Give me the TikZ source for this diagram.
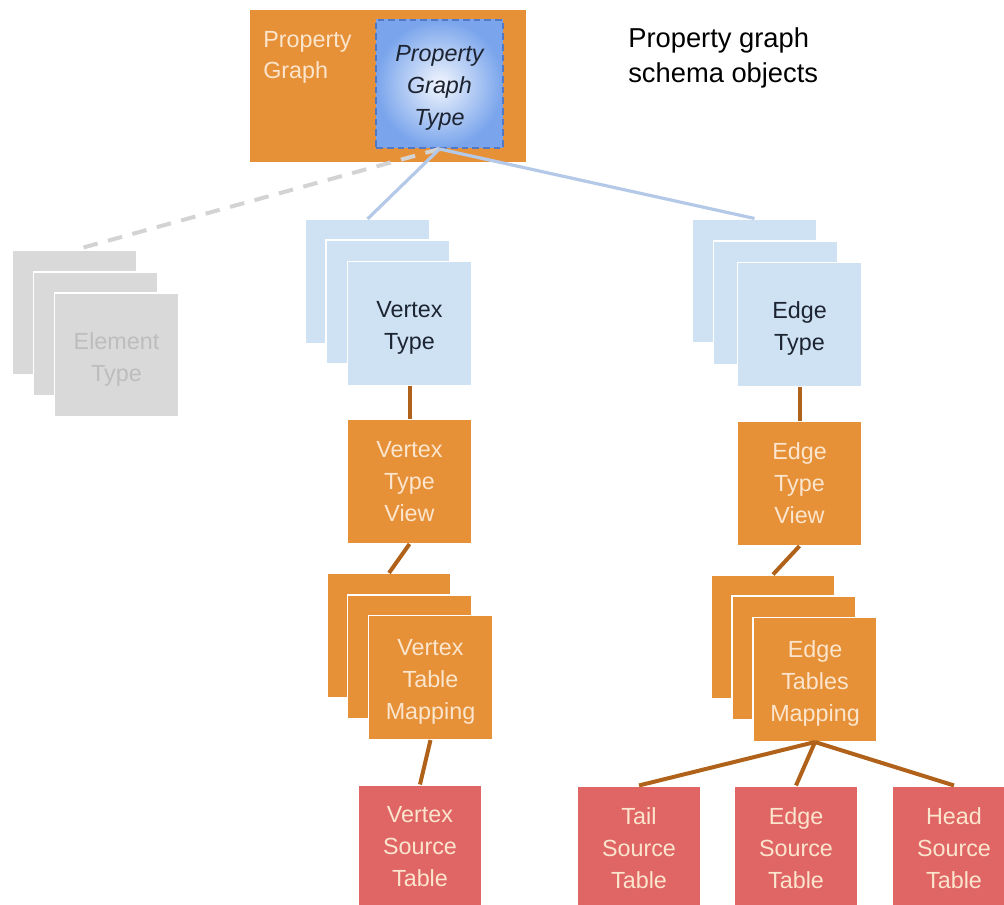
\documentclass[tikz,border=0pt]{standalone}
\usepackage{fontspec}
\setmainfont{Liberation Sans}
\definecolor{gorange}{HTML}{E69138}
\definecolor{gred}{HTML}{E06666}
\definecolor{gblue}{HTML}{CFE2F3}
\definecolor{ggray}{HTML}{D9D9D9}
\definecolor{cream}{HTML}{FCE5CD}
\definecolor{linebrown}{HTML}{B0621A}
\definecolor{lineblue}{HTML}{B4C9E8}
\definecolor{dashgray}{HTML}{D3D3D3}
\definecolor{txtgray}{HTML}{BDBDBD}
\definecolor{darktxt}{HTML}{1C2331}
\definecolor{pgtblue}{HTML}{7AA5EC}
\definecolor{pgtborder}{HTML}{5479C4}
\tikzset{
  boxfont/.style={font=\fontsize{17.5}{24}\selectfont},
  box/.style={rectangle, minimum width=93pt, minimum height=93pt, inner sep=0pt,
    draw=white, line width=0.8pt, align=center, boxfont},
  graybox/.style={box, fill=ggray, text=txtgray},
  bluebox/.style={box, fill=gblue, text=darktxt},
  orangebox/.style={box, fill=gorange, text=cream},
  redbox/.style={box, fill=gred, text=cream},
  boxtext/.style={align=center, inner sep=0pt, boxfont},
  brownline/.style={draw=linebrown, line width=3pt},
  blueline/.style={draw=lineblue, line width=2.4pt},
  grayline/.style={draw=dashgray, line width=3pt, dash pattern=on 11pt off 8pt},
}
\begin{document}
\begin{tikzpicture}[x=0.75pt,y=-0.75pt]
\useasboundingbox (0,0) rectangle (1004,905);
% Property graph container
\node[rectangle, fill=gorange, minimum width=207pt, minimum height=114pt, inner sep=0pt] (pg) at (388,86) {};
\node[anchor=north west, align=left, text=cream, font=\fontsize{17.5}{23.5}\selectfont, inner sep=0pt] (pglabel) at (263,31) {Property\\Graph};
\node[rectangle, shading=radial, inner color=white!90!pgtblue, outer color=pgtblue,
  draw=pgtborder, dash pattern=on 5pt off 3pt, line width=1.5pt, minimum width=95pt, minimum height=96pt,
  inner sep=0pt] (pgt) at (439.5,84) {};
\node[boxtext, text=darktxt, font=\fontsize{17.5}{24}\selectfont\itshape] (pgttext) at (439.5,88) {Property\\Graph\\Type};
% Title
\node[anchor=north west, align=left, text=black, font=\fontsize{20.5}{26.3}\selectfont, inner sep=0pt] (title) at (628,27) {Property graph\\schema objects};
% Element type stack
\node[graybox] (et1) at (74.5,312.5) {};
\node[graybox] (et2) at (95.5,334) {};
\node[graybox] (et3) at (116.5,355) {};
\node[boxtext, text=txtgray] (ettext) at (116.5,359) {Element\\Type};
% Vertex type stack
\node[bluebox] (vt1) at (367.5,281.5) {};
\node[bluebox] (vt2) at (388,302) {};
\node[bluebox] (vt3) at (409.5,323.5) {};
\node[boxtext, text=darktxt] (vttext) at (409.5,327.5) {Vertex\\Type};
% Edge type stack
\node[bluebox] (edt1) at (754.5,281) {};
\node[bluebox] (edt2) at (775.5,303) {};
\node[bluebox] (edt3) at (799.5,324.5) {};
\node[boxtext, text=darktxt] (edttext) at (799.5,328.5) {Edge\\Type};
% Views
\node[orangebox] (vtv) at (409.5,481.5) {Vertex\\Type\\View};
\node[orangebox] (etv) at (799.5,483.5) {Edge\\Type\\View};
% Vertex table mapping stack
\node[orangebox] (vtm1) at (389,635.5) {};
\node[orangebox] (vtm2) at (409.5,657) {};
\node[orangebox] (vtm3) at (430.5,677.5) {};
\node[boxtext, text=cream] (vtmtext) at (430.5,682) {Vertex\\Table\\Mapping};
% Edge tables mapping stack
\node[orangebox] (etm1) at (773,637) {};
\node[orangebox] (etm2) at (794,658) {};
\node[orangebox] (etm3) at (815,679.5) {};
\node[boxtext, text=cream] (etmtext) at (815,683.5) {Edge\\Tables\\Mapping};
% Source tables
\node[redbox] (vst) at (420,847) {Vertex\\Source\\Table};
\node[redbox] (tst) at (639,848) {Tail\\Source\\Table};
\node[redbox] (est) at (796,848) {Edge\\Source\\Table};
\node[redbox] (hst) at (954,848) {Head\\Source\\Table};
% Connectors
\draw[grayline] (pgt.south) -- (et1.north);
\draw[blueline] (pgt.south) -- (vt1.north);
\draw[blueline] (pgt.south) -- (edt1.north);
\draw[brownline] (vt3.south) -- (vtv.north);
\draw[brownline] (vtv.south) -- (vtm1.north);
\draw[brownline] (vtm3.south) -- (vst.north);
\draw[brownline] (edt3.south) -- (etv.north);
\draw[brownline] (etv.south) -- (etm1.north);
\draw[brownline] (etm3.south) -- (tst.north);
\draw[brownline] (etm3.south) -- (est.north);
\draw[brownline] (etm3.south) -- (hst.north);
\end{tikzpicture}
\end{document}
